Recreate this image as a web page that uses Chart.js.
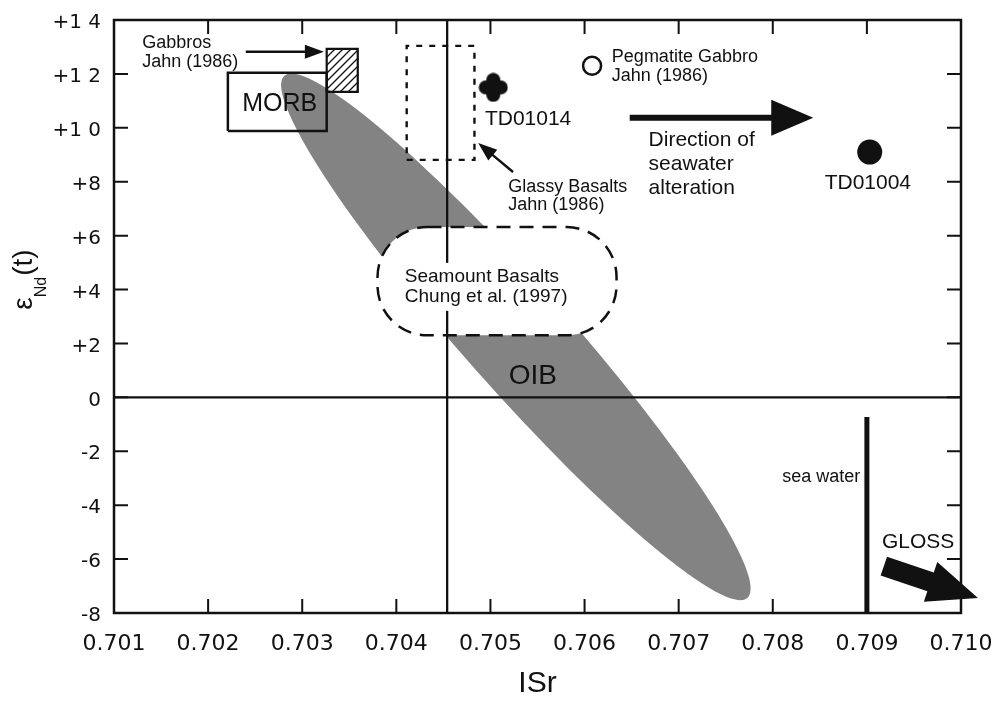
<!DOCTYPE html>
<html>
<head>
<meta charset="utf-8">
<title>ISr vs eNd(t)</title>
<script src="https://cdn.jsdelivr.net/npm/chart.js@4.4.1/dist/chart.umd.min.js"></script>
<style>
  html, body { margin: 0; padding: 0; background: #fff; }
</style>
</head>
<body>
<canvas id="isrChart" width="1000" height="702"></canvas>
<script>
"use strict";

// axis ticks
var xTicks = [0.701, 0.702, 0.703, 0.704, 0.705, 0.706, 0.707, 0.708, 0.709, 0.710];
var xTickLabels = ["0.701", "0.702", "0.703", "0.704", "0.705", "0.706", "0.707", "0.708", "0.709", "0.710"];
var yTicks = [-8, -6, -4, -2, 0, 2, 4, 6, 8, 10, 12, 14];
var yTickLabels = ["-8", "-6", "-4", "-2", "0", "+2", "+4", "+6", "+8", "+1 0", "+1 2", "+1 4"];

// samples [ISr, eNd]
var td01014 = [0.70503, 11.5];
var td01004 = [0.70903, 9.1];
var pegmatiteGabbro = [0.70608, 12.3];

// fields [min, max]
var morbX = [0.70221, 0.70326];
var morbY = [9.88, 12.04];
var gabbroX = [0.70326, 0.70359];
var gabbroY = [11.33, 12.93];
var glassyX = [0.70411, 0.70483];
var glassyY = [8.81, 13.04];
var seamountX = [0.70380, 0.70634];
var seamountY = [2.30, 6.32];
var oibTipA = [0.70281, 11.93];
var oibTipB = [0.70773, -7.44];

// reference lines
var bulkSr = 0.70454;
var seawaterSr = 0.709;
var seawaterNd = [-0.73, -8];

// arrows [tail, tip]
var gabbroArrow = [[0.70240, 12.82], [0.70323, 12.82]];
var glassyArrow = [[0.70524, 8.36], [0.70487, 9.44]];
var alterationArrow = [[0.70648, 10.37], [0.70843, 10.37]];
var glossArrow = [[0.70918, -6.26], [0.71018, -7.44]];

// text notes
var notes = [
  { at: [0.70130, 13.15], lines: ["Gabbros", "Jahn (1986)"], size: 18, align: "left", lh: 19 },
  { at: [0.70276, 10.89], lines: ["MORB"], size: 25, align: "center", lh: 25 },
  { at: [0.70629, 12.63], lines: ["Pegmatite Gabbro", "Jahn (1986)"], size: 18, align: "left", lh: 19 },
  { at: [0.70540, 10.33], lines: ["TD01014"], size: 21, align: "center", lh: 21 },
  { at: [0.70519, 7.81], lines: ["Glassy Basalts", "Jahn (1986)"], size: 18, align: "left", lh: 18.5 },
  { at: [0.70668, 9.55], lines: ["Direction of", "seawater", "alteration"], size: 21, align: "left", lh: 24 },
  { at: [0.70901, 7.96], lines: ["TD01004"], size: 21, align: "center", lh: 21 },
  { at: [0.70545, 0.79], lines: ["OIB"], size: 28, align: "center", lh: 28 },
  { at: [0.70893, -2.95], lines: ["sea water"], size: 18, align: "right", lh: 18 },
  { at: [0.70916, -5.37], lines: ["GLOSS"], size: 21, align: "left", lh: 21 }
];
var seamountNote = { at: [0.70409, 4.47], lines: ["Seamount Basalts", "Chung et al. (1997)"], size: 19, lh: 20 };

function pt(a) { return { x: a[0], y: a[1] }; }
function boxPoints(xr, yr) {
  return [
    { x: xr[0], y: yr[0] }, { x: xr[1], y: yr[0] }, { x: xr[1], y: yr[1] },
    { x: xr[0], y: yr[1] }, { x: xr[0], y: yr[0] }
  ];
}

// quatrefoil marker for TD01014
var quatrefoil = document.createElement("canvas");
quatrefoil.width = 30;
quatrefoil.height = 30;
var q = quatrefoil.getContext("2d");
q.fillStyle = "#111";
[[15, 7.5], [15, 22.5], [7.5, 15], [22.5, 15]].forEach(function(c) {
  q.beginPath();
  q.arc(c[0], c[1], 7, 0, 2 * Math.PI);
  q.fill();
});
q.fillRect(9, 9, 12, 12);

// hatch pattern for gabbros
var hatch = document.createElement("canvas");
hatch.width = 8;
hatch.height = 8;
var h = hatch.getContext("2d");
h.strokeStyle = "#111";
h.lineWidth = 1.3;
h.beginPath();
h.moveTo(0, 8); h.lineTo(8, 0);
h.moveTo(-2, 2); h.lineTo(2, -2);
h.moveTo(6, 10); h.lineTo(10, 6);
h.stroke();
var hatchPattern = h.createPattern(hatch, "repeat");

var INK = "#111";
var SANS = "'Liberation Sans', Arial, Helvetica, sans-serif";

function arrow(ctx, x1, y1, x2, y2, shaftHalf, headLen, headHalf) {
  var ang = Math.atan2(y2 - y1, x2 - x1);
  var len = Math.hypot(x2 - x1, y2 - y1);
  ctx.save();
  ctx.translate(x1, y1);
  ctx.rotate(ang);
  ctx.beginPath();
  ctx.moveTo(0, -shaftHalf);
  ctx.lineTo(len - headLen, -shaftHalf);
  ctx.lineTo(len - headLen, -headHalf);
  ctx.lineTo(len, 0);
  ctx.lineTo(len - headLen, headHalf);
  ctx.lineTo(len - headLen, shaftHalf);
  ctx.lineTo(0, shaftHalf);
  ctx.closePath();
  ctx.fillStyle = INK;
  ctx.fill();
  ctx.restore();
}

function noPadding(s) {
  s.paddingLeft = 0;
  s.paddingRight = 0;
  s.paddingTop = 0;
  s.paddingBottom = 0;
}

var diagramPlugin = {
  id: "diagram",
  beforeDatasetsDraw: function(chart) {
    var ctx = chart.ctx, xs = chart.scales.x, ys = chart.scales.y;
    // OIB field
    var ax = xs.getPixelForValue(oibTipA[0]), ay = ys.getPixelForValue(oibTipA[1]);
    var bx = xs.getPixelForValue(oibTipB[0]), by = ys.getPixelForValue(oibTipB[1]);
    ctx.save();
    ctx.beginPath();
    ctx.ellipse((ax + bx) / 2, (ay + by) / 2, Math.hypot(bx - ax, by - ay) / 2, 52,
      Math.atan2(by - ay, bx - ax), 0, 2 * Math.PI);
    ctx.fillStyle = "#838383";
    ctx.fill();
    // seamount basalts field
    var sx0 = xs.getPixelForValue(seamountX[0]), sx1 = xs.getPixelForValue(seamountX[1]);
    var sy0 = ys.getPixelForValue(seamountY[1]), sy1 = ys.getPixelForValue(seamountY[0]);
    ctx.beginPath();
    ctx.roundRect(sx0, sy0, sx1 - sx0, sy1 - sy0, 50);
    ctx.fillStyle = "#fff";
    ctx.fill();
    ctx.setLineDash([14, 9]);
    ctx.lineWidth = 2.5;
    ctx.strokeStyle = INK;
    ctx.stroke();
    ctx.restore();
  },
  afterDatasetsDraw: function(chart) {
    var ctx = chart.ctx, xs = chart.scales.x, ys = chart.scales.y, a = chart.chartArea;
    ctx.save();
    // frame
    ctx.strokeStyle = INK;
    ctx.lineWidth = 2.5;
    ctx.strokeRect(a.left, a.top, a.right - a.left, a.bottom - a.top);
    // inner tick marks
    ctx.lineWidth = 2;
    ctx.beginPath();
    xTicks.slice(1, -1).forEach(function(v) {
      var px = xs.getPixelForValue(v);
      ctx.moveTo(px, a.bottom); ctx.lineTo(px, a.bottom - 14);
      ctx.moveTo(px, a.top); ctx.lineTo(px, a.top + 14);
    });
    yTicks.slice(1, -1).forEach(function(v) {
      var py = ys.getPixelForValue(v);
      ctx.moveTo(a.left, py); ctx.lineTo(a.left + 14, py);
      ctx.moveTo(a.right, py); ctx.lineTo(a.right - 14, py);
    });
    ctx.stroke();

    // thin arrows
    [gabbroArrow, glassyArrow].forEach(function(ar) {
      arrow(ctx, xs.getPixelForValue(ar[0][0]), ys.getPixelForValue(ar[0][1]),
        xs.getPixelForValue(ar[1][0]), ys.getPixelForValue(ar[1][1]), 1.2, 19, 7);
    });
    // thick arrows
    arrow(ctx, xs.getPixelForValue(alterationArrow[0][0]), ys.getPixelForValue(alterationArrow[0][1]),
      xs.getPixelForValue(alterationArrow[1][0]), ys.getPixelForValue(alterationArrow[1][1]), 3, 42, 18);
    arrow(ctx, xs.getPixelForValue(glossArrow[0][0]), ys.getPixelForValue(glossArrow[0][1]),
      xs.getPixelForValue(glossArrow[1][0]), ys.getPixelForValue(glossArrow[1][1]), 10, 50, 21);

    // notes
    ctx.fillStyle = INK;
    ctx.textBaseline = "middle";
    notes.forEach(function(n) {
      ctx.font = n.size + "px " + SANS;
      ctx.textAlign = n.align;
      var px = xs.getPixelForValue(n.at[0]), py = ys.getPixelForValue(n.at[1]);
      n.lines.forEach(function(t, i) { ctx.fillText(t, px, py + i * n.lh); });
    });
    // seamount note on white
    ctx.font = seamountNote.size + "px " + SANS;
    ctx.textAlign = "left";
    var mx = xs.getPixelForValue(seamountNote.at[0]), my = ys.getPixelForValue(seamountNote.at[1]);
    var w = Math.max.apply(null, seamountNote.lines.map(function(t) { return ctx.measureText(t).width; }));
    ctx.fillStyle = "#fff";
    ctx.fillRect(mx - 3, my - 14, w + 6, seamountNote.lh + 28);
    ctx.fillStyle = INK;
    seamountNote.lines.forEach(function(t, i) { ctx.fillText(t, mx, my + i * seamountNote.lh); });

    // y axis title: eNd(t)
    ctx.translate(32, 280);
    ctx.rotate(-Math.PI / 2);
    ctx.textAlign = "left";
    ctx.textBaseline = "alphabetic";
    var big = "28px " + SANS, small = "16px " + SANS;
    ctx.font = big; var w1 = ctx.measureText("\u03b5").width, w3 = ctx.measureText("(t)").width;
    ctx.font = small; var w2 = ctx.measureText("Nd").width;
    var x0 = -(w1 + w2 + w3) / 2;
    ctx.font = big; ctx.fillText("\u03b5", x0, 0);
    ctx.font = small; ctx.fillText("Nd", x0 + w1, 14);
    ctx.font = big; ctx.fillText("(t)", x0 + w1 + w2 + 1, 0);
    ctx.restore();
  }
};

var lineBase = { showLine: true, pointRadius: 0, borderColor: INK, tension: 0, fill: false, borderJoinStyle: "miter" };

new Chart(document.getElementById("isrChart"), {
  type: "scatter",
  data: {
    datasets: [
      { label: "TD01014", data: [pt(td01014)], pointStyle: quatrefoil },
      { label: "TD01004", data: [pt(td01004)], pointRadius: 12.5, backgroundColor: INK, borderWidth: 0 },
      { label: "Pegmatite Gabbro", data: [pt(pegmatiteGabbro)], pointRadius: 9, backgroundColor: "#fff", borderColor: INK, borderWidth: 2.5 },
      Object.assign({}, lineBase, { label: "Gabbros", data: boxPoints(gabbroX, gabbroY), borderWidth: 2.2, fill: "shape", backgroundColor: hatchPattern }),
      Object.assign({}, lineBase, { label: "MORB", data: boxPoints(morbX, morbY), borderWidth: 2.5 }),
      Object.assign({}, lineBase, { label: "Glassy Basalts", data: boxPoints(glassyX, glassyY), borderWidth: 2.4, borderDash: [6, 7] }),
      Object.assign({}, lineBase, { label: "sea water", data: [{ x: seawaterSr, y: seawaterNd[0] }, { x: seawaterSr, y: seawaterNd[1] }], borderWidth: 5 }),
      Object.assign({}, lineBase, { label: "zero", data: [{ x: xTicks[0], y: 0 }, { x: xTicks[xTicks.length - 1], y: 0 }], borderWidth: 2.3 }),
      Object.assign({}, lineBase, { label: "bulk", data: [{ x: bulkSr, y: yTicks[0] }, { x: bulkSr, y: yTicks[yTicks.length - 1] }], borderWidth: 2.3 })
    ]
  },
  options: {
    responsive: false,
    animation: false,
    events: [],
    layout: { padding: { left: 0, top: 20, right: 39, bottom: 0 } },
    plugins: { legend: { display: false }, tooltip: { enabled: false } },
    scales: {
      x: {
        type: "linear",
        min: 0.701,
        max: 0.710,
        grid: { display: false, drawTicks: false },
        border: { display: false },
        afterBuildTicks: function(s) { s.ticks = xTicks.map(function(v) { return { value: v }; }); },
        afterFit: function(s) { s.height = 89; noPadding(s); },
        ticks: {
          autoSkip: false, maxRotation: 0, padding: 18, color: INK,
          font: { family: "'DejaVu Sans', sans-serif", size: 22 },
          callback: function(v, i) { return xTickLabels[i]; }
        },
        title: { display: true, text: "ISr", color: INK, font: { family: SANS, size: 30 }, padding: { top: 4, bottom: 0 } }
      },
      y: {
        type: "linear",
        min: -8,
        max: 14,
        grid: { display: false, drawTicks: false },
        border: { display: false },
        afterBuildTicks: function(s) { s.ticks = yTicks.map(function(v) { return { value: v }; }); },
        afterFit: function(s) { s.width = 114; noPadding(s); },
        ticks: {
          padding: 13, labelOffset: 3, color: INK,
          font: { family: "'DejaVu Sans', sans-serif", size: 20 },
          callback: function(v, i) { return yTickLabels[i]; }
        }
      }
    }
  },
  plugins: [diagramPlugin]
});
</script>
</body>
</html>
